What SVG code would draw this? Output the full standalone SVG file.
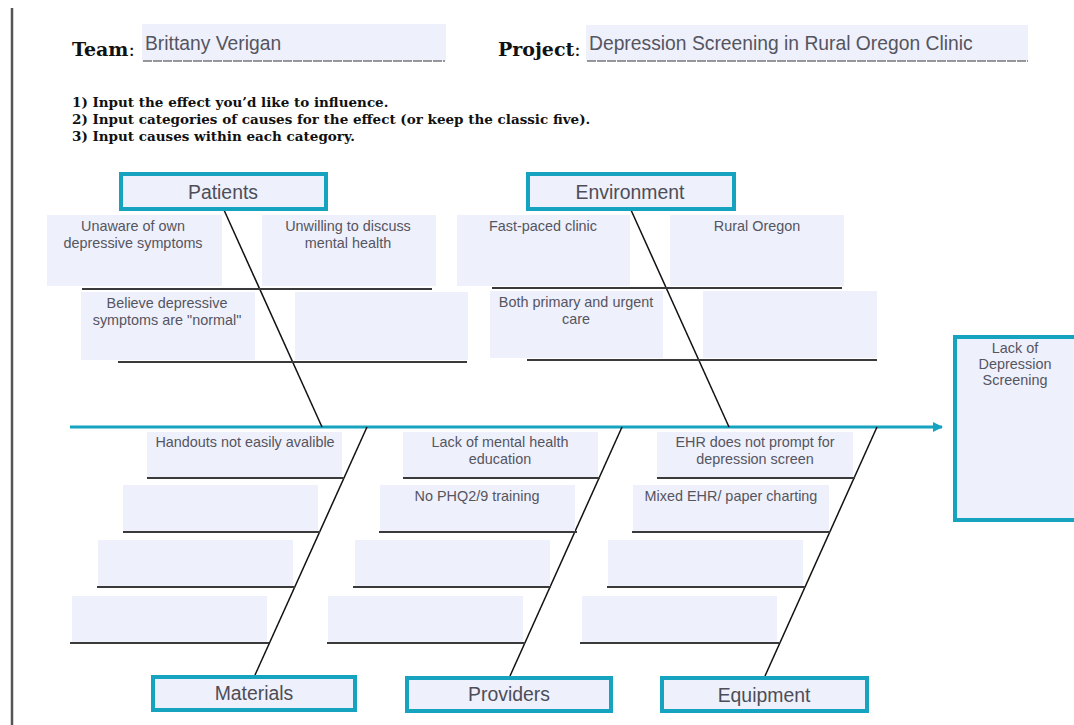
<svg xmlns="http://www.w3.org/2000/svg" width="1074" height="725" viewBox="0 0 1074 725">
<style>
.hdr{font-family:"DejaVu Serif","Liberation Serif",serif;font-weight:bold;fill:#111;}
.fld{fill:#eef0fc;}
.fldtxt{font-family:"Liberation Sans",Arial,sans-serif;font-size:19.3px;fill:#555560;}
.cause{fill:#eef0fc;}
.ctxt{font-family:"Liberation Sans",Arial,sans-serif;font-size:14.4px;fill:#55555f;text-anchor:middle;}
.cat{fill:#eef0fc;stroke:#16a3c0;stroke-width:4;}
.cattxt{font-family:"Liberation Sans",Arial,sans-serif;font-size:19.4px;fill:#4d4d57;text-anchor:middle;}
.ul{stroke:#3a3a3a;stroke-width:2;}
.bone{stroke:#111;stroke-width:1.5;fill:none;}
</style>
<defs>
<marker id="arr" markerWidth="10" markerHeight="10" refX="9" refY="5" orient="auto" markerUnits="userSpaceOnUse">
<path d="M0,0 L10,5 L0,10 Z" fill="#16a3c0"/>
</marker>
</defs>
<rect x="0" y="0" width="1074" height="725" fill="#ffffff"/>
<line x1="12" y1="8" x2="12" y2="725" stroke="#555" stroke-width="2.5"/>

<g id="header">
<text class="hdr" x="72" y="56" font-size="19">Team<tspan font-weight="normal">:</tspan></text>
<rect class="fld" x="142" y="24" width="304" height="37"/>
<line x1="143" y1="61" x2="445" y2="61" stroke="#777" stroke-width="1.5" stroke-dasharray="9,1"/>
<text class="fldtxt" x="145" y="50">Brittany Verigan</text>
<text class="hdr" x="498" y="56" font-size="19">Project<tspan font-weight="normal">:</tspan></text>
<rect class="fld" x="586" y="25" width="442" height="36"/>
<line x1="587" y1="61" x2="1028" y2="61" stroke="#777" stroke-width="1.5" stroke-dasharray="9,1"/>
<text class="fldtxt" x="589" y="50">Depression Screening in Rural Oregon Clinic</text>
<text class="hdr" x="72" y="107" font-size="13.5">1) Input the effect you’d like to influence.</text>
<text class="hdr" x="72" y="124" font-size="13.5">2) Input categories of causes for the effect (or keep the classic five).</text>
<text class="hdr" x="72" y="141" font-size="13.5">3) Input causes within each category.</text>
</g>

<g id="connectors">
<line x1="70" y1="427" x2="942" y2="427" stroke="#16a3c0" stroke-width="3" marker-end="url(#arr)"/>
<line class="bone" x1="224" y1="210" x2="322" y2="427"/>
<line class="bone" x1="631" y1="210" x2="729" y2="427"/>
<line class="bone" x1="367" y1="427" x2="255" y2="675"/>
<line class="bone" x1="622" y1="427" x2="510" y2="676"/>
<line class="bone" x1="877" y1="427" x2="765" y2="676"/>
</g>

<g id="patients">
<rect class="cause" x="47" y="215" width="175" height="71"/>
<text class="ctxt" x="133" y="231">Unaware of own</text>
<text class="ctxt" x="133" y="248">depressive symptoms</text>
<rect class="cause" x="262" y="215" width="174" height="71"/>
<text class="ctxt" x="348" y="231">Unwilling to discuss</text>
<text class="ctxt" x="348" y="248">mental health</text>
<line class="ul" x1="82" y1="289" x2="432" y2="289"/>
<rect class="cause" x="81" y="292" width="174" height="68"/>
<text class="ctxt" x="167" y="308">Believe depressive</text>
<text class="ctxt" x="167" y="325">symptoms are "normal"</text>
<rect class="cause" x="295" y="292" width="173" height="68"/>
<line class="ul" x1="118" y1="362" x2="467" y2="362"/>
<rect class="cat" x="121" y="174" width="205" height="35"/>
<text class="cattxt" x="223" y="199">Patients</text>
</g>

<g id="environment">
<rect class="cause" x="457" y="215" width="173" height="71"/>
<text class="ctxt" x="543" y="231">Fast-paced clinic</text>
<rect class="cause" x="670" y="215" width="174" height="71"/>
<text class="ctxt" x="757" y="231">Rural Oregon</text>
<line class="ul" x1="492" y1="288" x2="842" y2="288"/>
<rect class="cause" x="490" y="291" width="173" height="67"/>
<text class="ctxt" x="576" y="307">Both primary and urgent</text>
<text class="ctxt" x="576" y="324">care</text>
<rect class="cause" x="703" y="291" width="174" height="67"/>
<line class="ul" x1="527" y1="360" x2="877" y2="360"/>
<rect class="cat" x="528" y="174" width="206" height="35"/>
<text class="cattxt" x="630" y="199">Environment</text>
</g>

<g id="materials">
<rect class="cause" x="147" y="432" width="195" height="45"/>
<text class="ctxt" x="245" y="447">Handouts not easily avalible</text>
<line class="ul" x1="147" y1="478" x2="344" y2="478"/>
<rect class="cause" x="123" y="485" width="195" height="46"/>
<line class="ul" x1="123" y1="532" x2="320" y2="532"/>
<rect class="cause" x="98" y="540" width="195" height="46"/>
<line class="ul" x1="97" y1="587" x2="295" y2="587"/>
<rect class="cause" x="72" y="596" width="195" height="46"/>
<line class="ul" x1="70" y1="643" x2="269" y2="643"/>
<rect class="cat" x="153" y="677" width="202" height="33"/>
<text class="cattxt" x="254" y="700">Materials</text>
</g>

<g id="providers">
<rect class="cause" x="403" y="432" width="195" height="45"/>
<text class="ctxt" x="500" y="447">Lack of mental health</text>
<text class="ctxt" x="500" y="464">education</text>
<line class="ul" x1="403" y1="478" x2="600" y2="478"/>
<rect class="cause" x="380" y="485" width="195" height="46"/>
<text class="ctxt" x="477" y="501">No PHQ2/9 training</text>
<line class="ul" x1="379" y1="532" x2="577" y2="532"/>
<rect class="cause" x="355" y="540" width="195" height="46"/>
<line class="ul" x1="353" y1="587" x2="551" y2="587"/>
<rect class="cause" x="328" y="596" width="195" height="46"/>
<line class="ul" x1="327" y1="643" x2="525" y2="643"/>
<rect class="cat" x="407" y="678" width="204" height="33"/>
<text class="cattxt" x="509" y="701">Providers</text>
</g>

<g id="equipment">
<rect class="cause" x="657" y="432" width="196" height="45"/>
<text class="ctxt" x="755" y="447">EHR does not prompt for</text>
<text class="ctxt" x="755" y="464">depression screen</text>
<line class="ul" x1="657" y1="478" x2="855" y2="478"/>
<rect class="cause" x="633" y="485" width="196" height="46"/>
<text class="ctxt" x="731" y="501">Mixed EHR/ paper charting</text>
<line class="ul" x1="632" y1="532" x2="830" y2="532"/>
<rect class="cause" x="608" y="540" width="195" height="46"/>
<line class="ul" x1="607" y1="587" x2="805" y2="587"/>
<rect class="cause" x="582" y="596" width="195" height="46"/>
<line class="ul" x1="580" y1="643" x2="779" y2="643"/>
<rect class="cat" x="662" y="678" width="205" height="33"/>
<text class="cattxt" x="764" y="702">Equipment</text>
</g>

<g id="effect">
<rect class="cat" x="955" y="337" width="130" height="183"/>
<text class="ctxt" x="1015" y="353">Lack of</text>
<text class="ctxt" x="1015" y="369">Depression</text>
<text class="ctxt" x="1015" y="385">Screening</text>
</g>
</svg>
